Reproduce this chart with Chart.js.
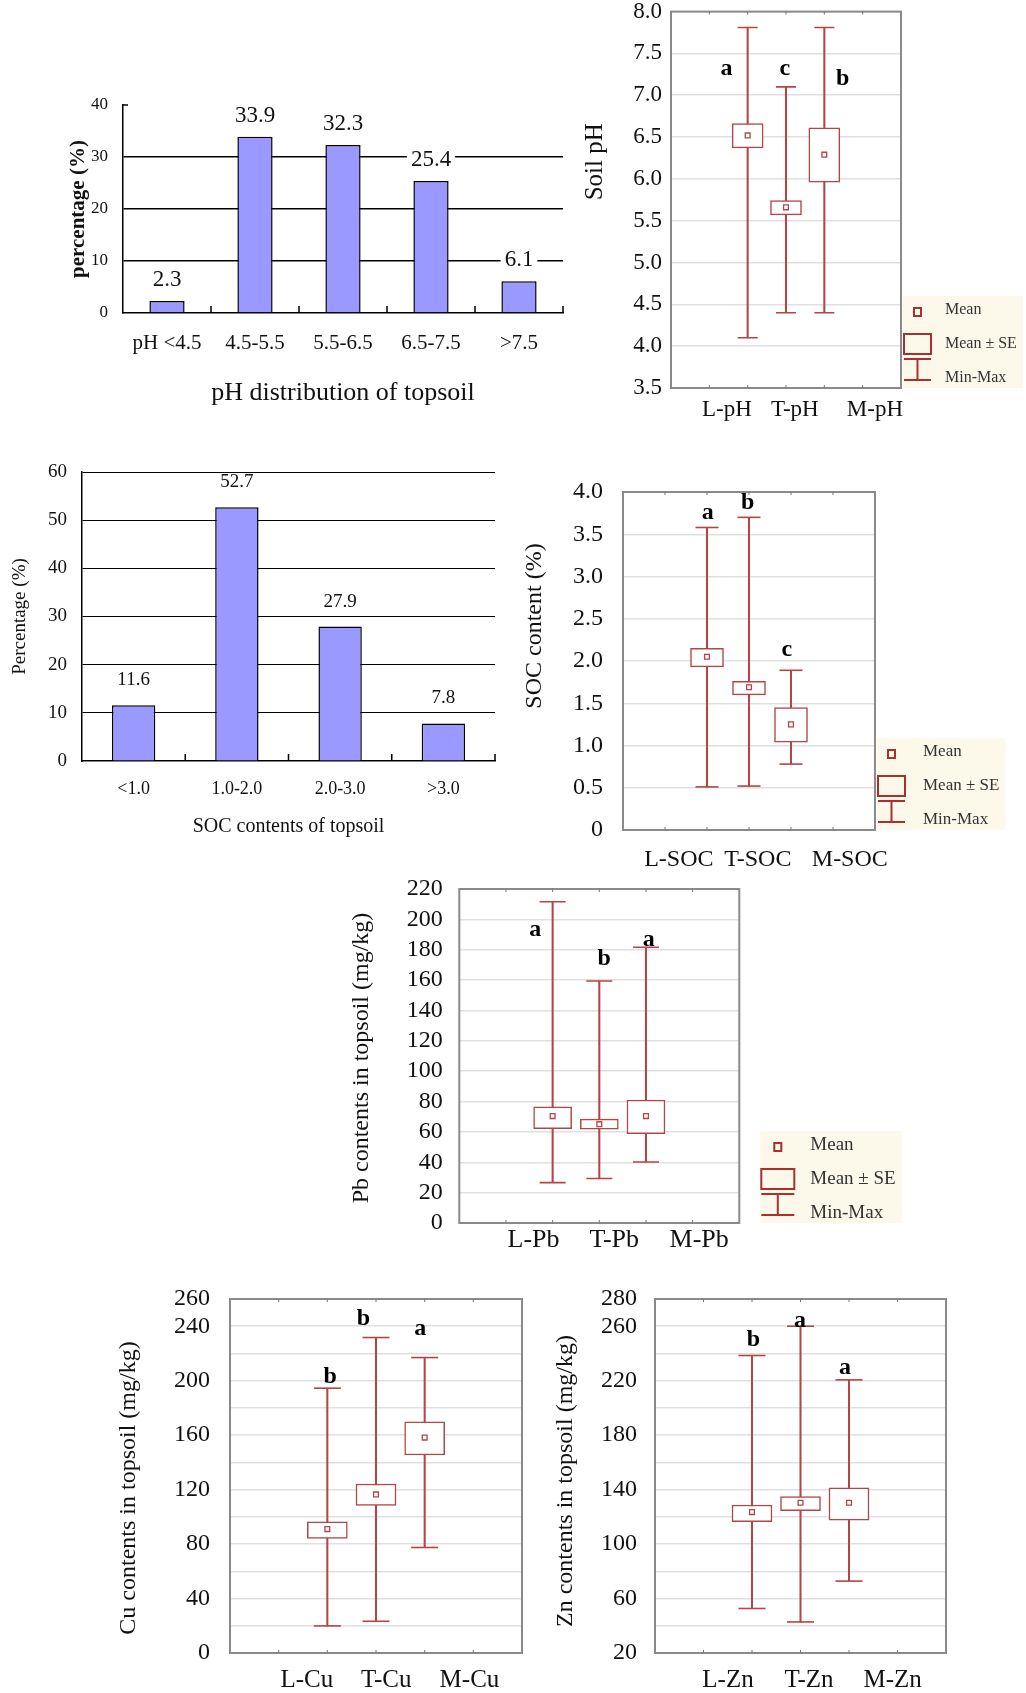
<!DOCTYPE html>
<html>
<head>
<meta charset="utf-8">
<title>Topsoil pH, SOC and heavy metals</title>
<script src="https://cdn.jsdelivr.net/npm/chart.js@4.4.1/dist/chart.umd.min.js"></script>
<style>
  html, body { margin: 0; padding: 0; background: #fff; }
  #page { position: relative; width: 1026px; height: 1693px; overflow: hidden; background: #fff; }
  #page canvas { position: absolute; }
</style>
</head>
<body>
<div id="page"></div>
<script>
// ── Data ───────────────────────────────────────────────────────
const phClasses = ["pH <4.5", "4.5-5.5", "5.5-6.5", "6.5-7.5", ">7.5"];
const phPercent = [2.3, 33.9, 32.3, 25.4, 6.1];

const socClasses = ["<1.0", "1.0-2.0", "2.0-3.0", ">3.0"];
const socPercent = [11.6, 52.7, 27.9, 7.8];

const phGroups  = ["L-pH", "T-pH", "M-pH"];
const phMean    = [6.52, 5.66, 6.29];
const phSeLow   = [6.37, 5.57, 5.96];
const phSeHigh  = [6.66, 5.74, 6.61];
const phMin     = [4.10, 4.40, 4.40];
const phMax     = [7.81, 7.10, 7.81];
const phLetters = ["a", "c", "b"];

const socGroups  = ["L-SOC", "T-SOC", "M-SOC"];
const socMean    = [2.05, 1.69, 1.25];
const socSeLow   = [1.93, 1.60, 1.04];
const socSeHigh  = [2.15, 1.76, 1.45];
const socMin     = [0.51, 0.52, 0.78];
const socMax     = [3.58, 3.70, 1.89];
const socLetters = ["a", "b", "c"];

const pbGroups  = ["L-Pb", "T-Pb", "M-Pb"];
const pbMean    = [70.4, 65.1, 70.4];
const pbSeLow   = [62.2, 61.8, 58.9];
const pbSeHigh  = [76.5, 68.4, 80.9];
const pbMin     = [26.6, 29.3, 40.2];
const pbMax     = [211.6, 159.4, 181.6];
const pbLetters = ["a", "b", "a"];

const cuGroups     = ["L-Cu", "T-Cu", "M-Cu"];
const cuMean       = [91.0, 116.5, 158.2];
const cuSeLow      = [84.2, 108.4, 145.4];
const cuSeHigh     = [96.4, 124.1, 169.7];
const cuMin        = [19.9, 23.3, 77.5];
const cuMax        = [194.5, 231.7, 217.0];
const cuLetters    = ["b", "b", "a"];
const cuTickLabels = [0, 40, 80, 120, 160, 200, 240, 260];

const znGroups     = ["L-Zn", "T-Zn", "M-Zn"];
const znMean       = [123.5, 130.4, 130.4];
const znSeLow      = [116.4, 124.5, 117.6];
const znSeHigh     = [128.7, 134.8, 141.4];
const znMin        = [52.7, 42.8, 72.8];
const znMax        = [238.5, 260.0, 220.6];
const znLetters    = ["b", "a", "a"];
const znTickLabels = [20, 60, 100, 140, 180, 220, 260, 280];

const legendLabels = ["Mean", "Mean \u00b1 SE", "Min-Max"];

// ── Look ───────────────────────────────────────────────────────
const SERIF = "'Liberation Serif', 'Times New Roman', serif";
const RED = "#b44545";
const LEGEND_RED = "#a83030";
const BAR_FILL = "#9999ff";
const INK = "#111";

Chart.defaults.font.family = SERIF;
Chart.defaults.color = INK;

// ── Helpers ────────────────────────────────────────────────────
function makeCanvas(left, top, width, height) {
  const c = document.createElement("canvas");
  c.width = width;
  c.height = height;
  c.style.left = left + "px";
  c.style.top = top + "px";
  c.style.width = width + "px";
  c.style.height = height + "px";
  document.getElementById("page").appendChild(c);
  return c;
}

function fixWidth(w) {
  return axis => {
    axis.width = w;
    axis.paddingTop = axis.paddingBottom = axis.paddingLeft = axis.paddingRight = 0;
  };
}

function fixHeight(h) {
  return axis => {
    axis.height = h;
    axis.paddingTop = axis.paddingBottom = axis.paddingLeft = axis.paddingRight = 0;
  };
}

// ── Plugins ────────────────────────────────────────────────────
const barValuePlugin = {
  id: "barValues",
  afterDatasetsDraw(chart, args, o) {
    const { ctx } = chart;
    const meta = chart.getDatasetMeta(0);
    const vals = chart.data.datasets[0].data;
    ctx.save();
    ctx.font = `${o.size}px ${SERIF}`;
    ctx.textAlign = "center";
    ctx.textBaseline = "middle";
    meta.data.forEach((bar, i) => {
      const t = vals[i].toFixed(1);
      const y = bar.y - o.offset;
      if (o.bg) {
        const w = ctx.measureText(t).width;
        ctx.fillStyle = "#fff";
        ctx.fillRect(bar.x - w / 2 - 4, y - o.size / 2, w + 8, o.size);
      }
      ctx.fillStyle = INK;
      ctx.fillText(t, bar.x, y);
    });
    ctx.restore();
  }
};

const catTickPlugin = {
  id: "catTicks",
  afterDraw(chart, args, o) {
    const { ctx, chartArea: a, scales: { x } } = chart;
    const n = chart.data.labels.length;
    ctx.save();
    ctx.strokeStyle = "#000";
    ctx.lineWidth = 1.5;
    ctx.beginPath();
    for (let i = 1; i <= n; i++) {
      const px = i < n ? (x.getPixelForTick(i - 1) + x.getPixelForTick(i)) / 2 : a.right;
      ctx.moveTo(px, a.bottom);
      ctx.lineTo(px, a.bottom - 7);
    }
    if (o.topTick) {
      ctx.moveTo(a.left, a.top);
      ctx.lineTo(a.left + 5, a.top);
    }
    ctx.stroke();
    ctx.restore();
  }
};

const framePlugin = {
  id: "frame",
  beforeDatasetsDraw(chart) {
    const { ctx, chartArea: a, scales: { x } } = chart;
    ctx.save();
    ctx.strokeStyle = "#8a8a8a";
    ctx.lineWidth = 2;
    ctx.strokeRect(a.left, a.top, a.right - a.left, a.bottom - a.top);
    ctx.strokeStyle = "#777";
    ctx.lineWidth = 1;
    ctx.beginPath();
    for (let v = 1; v <= 5; v++) {
      const px = x.getPixelForValue(v);
      ctx.moveTo(px, a.top);
      ctx.lineTo(px, a.top + 3);
      ctx.moveTo(px, a.bottom);
      ctx.lineTo(px, a.bottom - 3);
    }
    ctx.stroke();
    ctx.restore();
  }
};

const lettersPlugin = {
  id: "letters",
  afterDatasetsDraw(chart, args, o) {
    const { ctx, scales: { x, y } } = chart;
    ctx.save();
    ctx.font = `bold 24px ${SERIF}`;
    ctx.fillStyle = "#000";
    ctx.textAlign = "center";
    ctx.textBaseline = "middle";
    o.text.forEach((t, i) => {
      ctx.fillText(t, x.getPixelForValue(o.at[i][0]), y.getPixelForValue(o.at[i][1]));
    });
    ctx.restore();
  }
};

// rotated value-axis title, centred at x and shifted dy from the plot middle
const boxTitlePlugin = {
  id: "boxTitle",
  afterDraw(chart, args, o) {
    const { ctx, chartArea: a } = chart;
    ctx.save();
    ctx.translate(o.x, (a.top + a.bottom) / 2 + o.dy);
    ctx.rotate(-Math.PI / 2);
    ctx.font = `${o.size}px ${SERIF}`;
    ctx.fillStyle = INK;
    ctx.textAlign = "center";
    ctx.textBaseline = "middle";
    ctx.fillText(o.text, 0, 0);
    ctx.restore();
  }
};

const boxLegendPlugin = {
  id: "boxLegend",
  afterDraw(chart, args, o) {
    const { ctx, chartArea: a } = chart;
    const lx = a.right + o.gap;
    const lb = a.bottom;
    const w = o.w;
    ctx.save();
    ctx.font = `${o.font}px ${SERIF}`;
    const textW = Math.max(...legendLabels.map(t => ctx.measureText(t).width));
    ctx.fillStyle = "#fcf8ea";
    ctx.fillRect(lx, lb - 92, o.tx + textW + 6, 92);
    ctx.strokeStyle = LEGEND_RED;
    ctx.lineWidth = 2;
    ctx.strokeRect(lx + 1 + w / 2 - 3.5, lb - 80, 7, 8);
    ctx.strokeRect(lx + 1, lb - 54, w, 20);
    ctx.beginPath();
    ctx.moveTo(lx + 1, lb - 29);
    ctx.lineTo(lx + 1 + w, lb - 29);
    ctx.moveTo(lx + 1 + w / 2, lb - 29);
    ctx.lineTo(lx + 1 + w / 2, lb - 8);
    ctx.moveTo(lx + 1, lb - 8);
    ctx.lineTo(lx + 1 + w, lb - 8);
    ctx.stroke();
    ctx.fillStyle = "#333";
    ctx.textBaseline = "middle";
    const rows = [-78, -44, -10];
    legendLabels.forEach((t, i) => ctx.fillText(t, lx + o.tx, lb + rows[i]));
    ctx.restore();
  }
};

/* ════════════════════════════════════════════════════════════════
   BAR CHARTS (distribution of classes)
   ════════════════════════════════════════════════════════════════ */

function barChart(box, o) {
  const canvas = makeCanvas(box[0], box[1], box[2], box[3]);
  return new Chart(canvas, {
    type: "bar",
    data: {
      labels: o.labels,
      datasets: [{
        data: o.values,
        backgroundColor: BAR_FILL,
        borderColor: "#000",
        borderWidth: 1.5,
        barPercentage: o.barPct,
        categoryPercentage: 1
      }]
    },
    options: {
      responsive: false,
      animation: false,
      events: [],
      devicePixelRatio: 1,
      layout: { padding: o.pad },
      plugins: {
        legend: { display: false },
        tooltip: { enabled: false },
        barValues: { size: o.valueSize, offset: o.valueOffset, bg: o.valueBg },
        catTicks: { topTick: o.topTick }
      },
      scales: {
        x: {
          afterFit: fixHeight(o.xH),
          grid: { display: false, drawTicks: false },
          border: { color: "#000", width: 1.5 },
          ticks: { autoSkip: false, maxRotation: 0, padding: o.xTickPad, font: { size: o.xTickSize }, color: INK },
          title: { display: true, text: o.xTitle, color: INK, font: { size: o.xTitleSize }, padding: { top: 0, bottom: o.xTitlePad } }
        },
        y: {
          min: 0,
          max: o.yMax,
          afterFit: fixWidth(o.yW),
          ticks: { stepSize: 10, autoSkip: false, padding: o.yTickPad, font: { size: o.yTickSize }, color: INK },
          grid: {
            drawTicks: false,
            lineWidth: o.gridW,
            color: ctx => (o.gridAt.includes(ctx.tick.value) ? "#000" : "rgba(0,0,0,0)")
          },
          border: { color: "#000", width: 1.5 },
          title: {
            display: true, text: o.yTitle, color: INK,
            font: { size: o.yTitleSize, weight: o.yTitleWeight },
            padding: { top: o.yTitlePad, bottom: 0 }
          }
        }
      }
    },
    plugins: [barValuePlugin, catTickPlugin]
  });
}

/* ════════════════════════════════════════════════════════════════
   BOX CHARTS (mean, mean ± SE, min-max)
   ════════════════════════════════════════════════════════════════ */

const GROUP_X = [2, 3, 4];

function boxChart(box, o) {
  const canvas = makeCanvas(box[0], box[1], box[2], box[3]);
  const pts = ys => GROUP_X.map((x, i) => ({ x, y: ys[i] }));
  const ranges = (lo, hi) => GROUP_X.map((x, i) => ({ x, y: [lo[i], hi[i]] }));

  return new Chart(canvas, {
    type: "bar",
    data: {
      datasets: [
        {
          type: "scatter", data: pts(o.mean), order: 1,
          pointStyle: "rect", pointRadius: 3.4, borderColor: RED, backgroundColor: "#fff", borderWidth: 1.3
        },
        {
          type: "bar", data: ranges(o.seLow, o.seHigh), order: 2, grouped: false,
          barThickness: o.boxW, backgroundColor: "#fff", borderColor: RED, borderWidth: 1.5, borderSkipped: false
        },
        {
          type: "scatter", data: pts(o.min).concat(pts(o.max)), order: 3,
          pointStyle: "line", pointRadius: o.capW / 2, borderColor: RED, borderWidth: 1.6
        },
        {
          type: "bar", data: ranges(o.min, o.max), order: 4, grouped: false,
          barThickness: 1.4, backgroundColor: RED, borderWidth: 0
        }
      ]
    },
    options: {
      responsive: false,
      animation: false,
      events: [],
      devicePixelRatio: 1,
      layout: { padding: o.pad },
      plugins: {
        legend: { display: false },
        tooltip: { enabled: false },
        letters: { text: o.letters, at: o.letterAt },
        boxTitle: o.title,
        boxLegend: o.legend
      },
      scales: {
        x: {
          type: "linear",
          min: 0,
          max: 6,
          offset: false,
          afterFit: fixHeight(o.xH),
          afterBuildTicks: axis => { axis.ticks = o.labelAt.map(v => ({ value: v })); },
          grid: { display: false, drawTicks: false },
          border: { display: false },
          ticks: {
            autoSkip: false, maxRotation: 0, padding: o.xTickPad,
            font: { size: o.xTickSize }, color: INK,
            callback: (v, i) => o.groups[i]
          }
        },
        y: {
          type: "linear",
          min: o.yMin,
          max: o.yMax,
          afterFit: fixWidth(o.yW),
          grid: { color: "#e0e0e0", lineWidth: 1.5, drawTicks: false },
          border: { display: false },
          ticks: {
            stepSize: o.step, autoSkip: false, padding: o.yTickPad,
            font: { size: o.yTickSize }, color: INK,
            callback: o.tickFmt
          }
        }
      }
    },
    plugins: o.legend
      ? [framePlugin, lettersPlugin, boxTitlePlugin, boxLegendPlugin]
      : [framePlugin, lettersPlugin, boxTitlePlugin]
  });
}

// ── pH distribution ──
barChart([0, 80, 570, 340], {
  labels: phClasses, values: phPercent, barPct: 0.4, yMax: 40,
  pad: { top: 25, right: 7, bottom: 0, left: 0 }, yW: 123, xH: 107,
  gridAt: [10, 20, 30], gridW: 1.5, topTick: true,
  yTickSize: 17, yTickPad: 15,
  yTitle: "percentage (%)", yTitleSize: 21, yTitleWeight: "bold", yTitlePad: 65.7,
  xTickSize: 21, xTickPad: 17.4,
  xTitle: "pH distribution of topsoil", xTitleSize: 26, xTitlePad: 11.4,
  valueSize: 23, valueOffset: 21, valueBg: true
});

// ── SOC distribution ──
barChart([0, 440, 520, 410], {
  labels: socClasses, values: socPercent, barPct: 0.42, yMax: 60,
  pad: { top: 32, right: 25, bottom: 0, left: 0 }, yW: 82, xH: 89,
  gridAt: [10, 20, 30, 40, 50, 60], gridW: 1, topTick: false,
  yTickSize: 19, yTickPad: 15,
  yTitle: "Percentage (%)", yTitleSize: 19, yTitleWeight: "normal", yTitlePad: 8.6,
  xTickSize: 18, xTickPad: 17.2,
  xTitle: "SOC contents of topsoil", xTitleSize: 20, xTitlePad: 11,
  valueSize: 19, valueOffset: 25, valueBg: false
});

// ── Soil pH ──
boxChart([560, 0, 466, 430], {
  groups: phGroups, mean: phMean, seLow: phSeLow, seHigh: phSeHigh, min: phMin, max: phMax,
  letters: phLetters, letterAt: [[1.45, 7.32], [2.97, 7.32], [4.48, 7.2]],
  labelAt: [1.46, 3.23, 5.32],
  yMin: 3.5, yMax: 8.0, step: 0.5, tickFmt: v => v.toFixed(1),
  pad: { top: 10, right: 125, bottom: 0, left: 0 }, yW: 111, xH: 42,
  yTickSize: 23, yTickPad: 9,
  title: { text: "Soil pH", size: 25, x: 35, dy: -38 },
  xTickSize: 23, xTickPad: 8.2, boxW: 31, capW: 20,
  legend: { gap: 2, w: 27, tx: 42, font: 16 }
});

// ── SOC content ──
boxChart([520, 440, 506, 440], {
  groups: socGroups, mean: socMean, seLow: socSeLow, seHigh: socSeHigh, min: socMin, max: socMax,
  letters: socLetters, letterAt: [[2.02, 3.75], [2.97, 3.87], [3.9, 2.13]],
  labelAt: [1.33, 3.21, 5.40],
  yMin: 0, yMax: 4.0, step: 0.5, tickFmt: v => (v === 0 ? "0" : v.toFixed(1)),
  pad: { top: 52, right: 151, bottom: 0, left: 0 }, yW: 103, xH: 50,
  yTickSize: 24, yTickPad: 20,
  title: { text: "SOC content (%)", size: 24, x: 15, dy: -35 },
  xTickSize: 24, xTickPad: 15.6, boxW: 33, capW: 23,
  legend: { gap: 2, w: 27, tx: 46, font: 17 }
});

// ── Pb ──
boxChart([330, 870, 696, 400], {
  groups: pbGroups, mean: pbMean, seLow: pbSeLow, seHigh: pbSeHigh, min: pbMin, max: pbMax,
  letters: pbLetters, letterAt: [[1.625, 193.4], [3.105, 174.3], [4.06, 186.4]],
  labelAt: [1.59, 3.32, 5.14],
  yMin: 0, yMax: 220, step: 20, tickFmt: v => v,
  pad: { top: 19, right: 286.7, bottom: 0, left: 0 }, yW: 129.3, xH: 47,
  yTickSize: 24, yTickPad: 16.6,
  title: { text: "Pb contents in topsoil (mg/kg)", size: 24, x: 31.7, dy: 2 },
  xTickSize: 26, xTickPad: 1.4, boxW: 38, capW: 26,
  legend: { gap: 21, w: 33, tx: 50, font: 19 }
});

// ── Cu ──
boxChart([100, 1270, 440, 423], {
  groups: cuGroups, mean: cuMean, seLow: cuSeLow, seHigh: cuSeHigh, min: cuMin, max: cuMax,
  letters: cuLetters, letterAt: [[2.057, 202.6], [2.742, 245.3], [3.908, 237.9]],
  labelAt: [1.58, 3.21, 4.92],
  yMin: 0, yMax: 260, step: 20, tickFmt: v => (cuTickLabels.includes(v) ? v : ""),
  pad: { top: 29, right: 18, bottom: 0, left: 0 }, yW: 130, xH: 40,
  yTickSize: 24, yTickPad: 20,
  title: { text: "Cu contents in topsoil (mg/kg)", size: 24, x: 29, dy: 12 },
  xTickSize: 25, xTickPad: 12, boxW: 40, capW: 27,
  legend: null
});

// ── Zn ──
boxChart([540, 1270, 486, 423], {
  groups: znGroups, mean: znMean, seLow: znSeLow, seHigh: znSeHigh, min: znMin, max: znMax,
  letters: znLetters, letterAt: [[2.027, 250], [2.99, 264.3], [3.918, 229.2]],
  labelAt: [1.505, 3.175, 4.90],
  yMin: 20, yMax: 280, step: 20, tickFmt: v => (znTickLabels.includes(v) ? v : ""),
  pad: { top: 29, right: 80, bottom: 0, left: 0 }, yW: 115, xH: 40,
  yTickSize: 24, yTickPad: 18,
  title: { text: "Zn contents in topsoil (mg/kg)", size: 24, x: 26, dy: 5 },
  xTickSize: 25, xTickPad: 12, boxW: 40, capW: 27,
  legend: null
});
</script>
</body>
</html>
